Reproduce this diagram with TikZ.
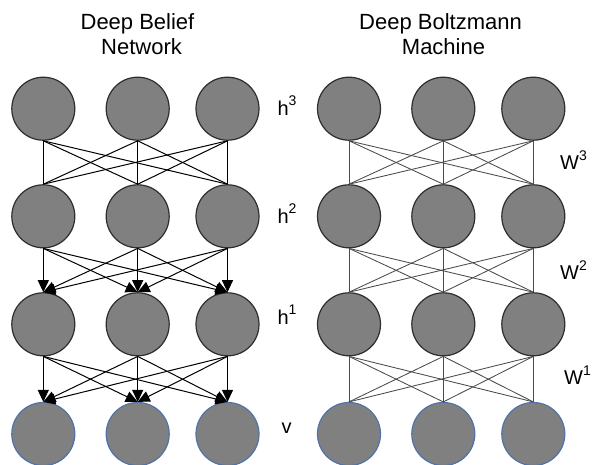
\documentclass[tikz,border=0pt]{standalone}
\usepackage{fontspec}
\setmainfont{Liberation Sans}
\usetikzlibrary{arrows.meta}
\definecolor{unitfill}{HTML}{808080}
\definecolor{unitedge}{HTML}{2E2E2E}
\definecolor{visedge}{HTML}{4F73A8}
\definecolor{dbmline}{HTML}{4A4A4A}
\tikzset{
  unit/.style={circle, draw=unitedge, line width=1.2pt, fill=unitfill,
    minimum size=63pt, inner sep=0pt},
  visunit/.style={unit, draw=visedge},
  title/.style={font=\fontsize{22}{26}\selectfont, anchor=base},
  lab/.style={font=\fontsize{20}{24}\selectfont, anchor=base west, inner sep=0pt},
  dbnlink/.style={draw=black, line width=1pt},
  dbnarrow/.style={dbnlink, -{Triangle[length=12pt,width=11pt]}},
  dbmlink/.style={draw=dbmline, line width=0.85pt},
}
\newcommand{\supnum}[1]{\raisebox{9.3pt}{\fontsize{14}{14}\selectfont #1}}
\begin{document}
\begin{tikzpicture}[x=1pt,y=-1pt]
  \useasboundingbox (0,0) rectangle (592,464);

  % titles
  \node[title] (t1a) at (137.5,29) {Deep Belief};
  \node[title] (t1b) at (141.5,54.3) {Network};
  \node[title] (t2a) at (440.5,29) {Deep Boltzmann};
  \node[title] (t2b) at (443.5,54.3) {Machine};

  % units: rows 1..4 from top (h3, h2, h1, v), columns a..c
  \foreach \r/\y in {1/108.7,2/216.3,3/324.3} {
    \node[unit] (La\r) at (43.3,\y) {};
    \node[unit] (Lb\r) at (137.7,\y) {};
    \node[unit] (Lc\r) at (227.5,\y) {};
    \node[unit] (Ra\r) at (349,\y) {};
    \node[unit] (Rb\r) at (443.3,\y) {};
    \node[unit] (Rc\r) at (533.3,\y) {};
  }
  \node[visunit] (La4) at (43.3,434) {};
  \node[visunit] (Lb4) at (137.7,434) {};
  \node[visunit] (Lc4) at (227.5,434) {};
  \node[visunit] (Ra4) at (349,434) {};
  \node[visunit] (Rb4) at (443.3,434) {};
  \node[visunit] (Rc4) at (533.3,434) {};

  % Deep Belief Network: undirected top pair, directed layers below
  \foreach \s in {a,b,c} {
    \foreach \t in {a,b,c} {
      \path[dbnlink] (L\s1.south) -- (L\t2.north);
      \path[dbnarrow] (L\s2.south) -- (L\t3.north);
      \path[dbnarrow] (L\s3.south) -- (L\t4.north);
    }
  }

  % Deep Boltzmann Machine: all layers undirected
  \foreach \s in {a,b,c} {
    \foreach \t in {a,b,c} {
      \path[dbmlink] (R\s1.south) -- (R\t2.north);
      \path[dbmlink] (R\s2.south) -- (R\t3.north);
      \path[dbmlink] (R\s3.south) -- (R\t4.north);
    }
  }

  % layer labels
  \node[lab] (h3) at (277.3,115) {h\supnum{3}};
  \node[lab] (h2) at (277.3,223) {h\supnum{2}};
  \node[lab] (h1) at (277.3,324) {h\supnum{1}};
  \node[lab] (v) at (281.5,433) {v};
  \node[lab] (w3) at (560,169.3) {W\supnum{3}};
  \node[lab] (w2) at (560,279.3) {W\supnum{2}};
  \node[lab] (w1) at (564,384.3) {W\supnum{1}};
\end{tikzpicture}
\end{document}
